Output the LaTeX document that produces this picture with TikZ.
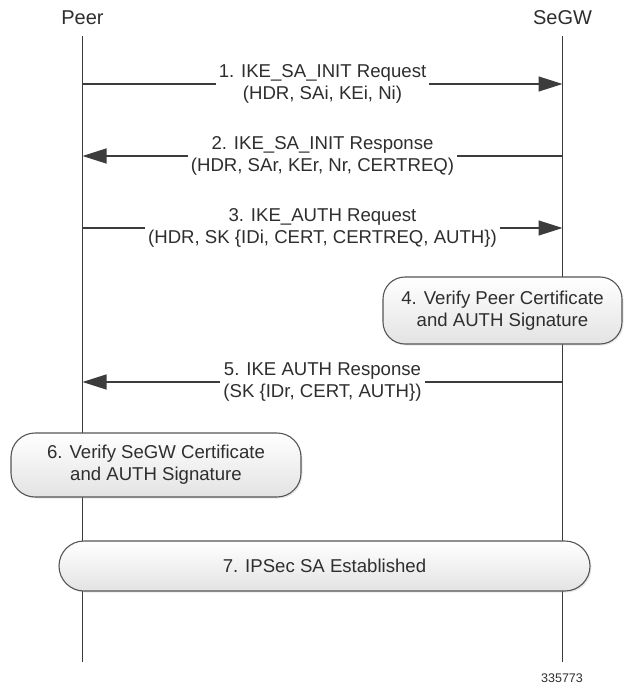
\documentclass[tikz,border=0pt]{standalone}
\usepackage{fontspec}
\setmainfont{Liberation Sans}
\usetikzlibrary{arrows.meta,shadows}
\definecolor{linec}{HTML}{3C3C3C}
\definecolor{txtc}{HTML}{2E2E2E}
\definecolor{boxc}{HTML}{555555}
\newcommand{\msgfont}{\fontsize{18.6}{22.3}\selectfont}
\newcommand{\headfont}{\fontsize{20}{24}\selectfont}
\newcommand{\numfont}{\fontsize{12.5}{15}\selectfont}
\begin{document}
\begin{tikzpicture}[x=1pt,y=-1pt,
  life/.style={draw=linec, line width=1.2pt},
  msg/.style={draw=linec, line width=1.2pt, -{Triangle[length=24pt,width=15pt]}},
  lbl/.style={fill=white, inner xsep=3pt, inner ysep=1pt, align=center, text=txtc, font=\msgfont},
  actbox/.style={draw=boxc, line width=1.1pt, top color=white, bottom color=black!11,
     drop shadow={opacity=0.18, shadow xshift=1.5pt, shadow yshift=-1.5pt},
     align=center, text=txtc, font=\msgfont, inner sep=0pt},
  head/.style={text=txtc, font=\headfont, inner sep=0pt}
]
\useasboundingbox (0,0) rectangle (624,687);
% heads
\node[head] (peer) at (82.5,17.5) {Peer};
\node[head] (segw) at (562.5,17.5) {SeGW};
% lifelines
\coordinate (ptop) at (82.5,36);
\coordinate (pbot) at (82.5,662);
\coordinate (stop) at (562.5,36);
\coordinate (sbot) at (562.5,662);
\draw[life] (ptop) -- (pbot);
\draw[life] (stop) -- (sbot);
% message end points
\coordinate (p1) at (82.5,84);  \coordinate (s1) at (562.5,84);
\coordinate (p2) at (82.5,156); \coordinate (s2) at (562.5,156);
\coordinate (p3) at (82.5,228); \coordinate (s3) at (562.5,228);
\coordinate (p5) at (82.5,382); \coordinate (s5) at (562.5,382);
% messages
\draw[msg] (p1) -- (s1);
\node[lbl] (m1) at (322.5,84) {1. IKE\_SA\_INIT Request\\(HDR, SAi, KEi, Ni)};
\draw[msg] (s2) -- (p2);
\node[lbl] (m2) at (322.5,156) {2. IKE\_SA\_INIT Response\\(HDR, SAr, KEr, Nr, CERTREQ)};
\draw[msg] (p3) -- (s3);
\node[lbl] (m3) at (322.5,228) {3. IKE\_AUTH Request\\(HDR, SK \{IDi, CERT, CERTREQ, AUTH\})};
% box 4
\node[actbox, rounded corners=22pt, minimum width=239pt, minimum height=67pt] (b4) at (502.5,310.5)
  {4. Verify Peer Certificate\\and AUTH Signature};
\draw[msg] (s5) -- (p5);
\node[lbl] (m5) at (322.5,382) {5. IKE AUTH Response\\(SK \{IDr, CERT, AUTH\})};
% box 6
\node[actbox, rounded corners=24pt, minimum width=290pt, minimum height=64pt] (b6) at (156,465)
  {6. Verify SeGW Certificate\\and AUTH Signature};
% box 7
\node[actbox, rounded corners=25pt, minimum width=531pt, minimum height=50pt] (b7) at (324.5,566)
  {7. IPSec SA Established};
% figure number
\node[text=txtc, font=\numfont, inner sep=0pt] (fig) at (562,678) {335773};
\end{tikzpicture}
\end{document}
